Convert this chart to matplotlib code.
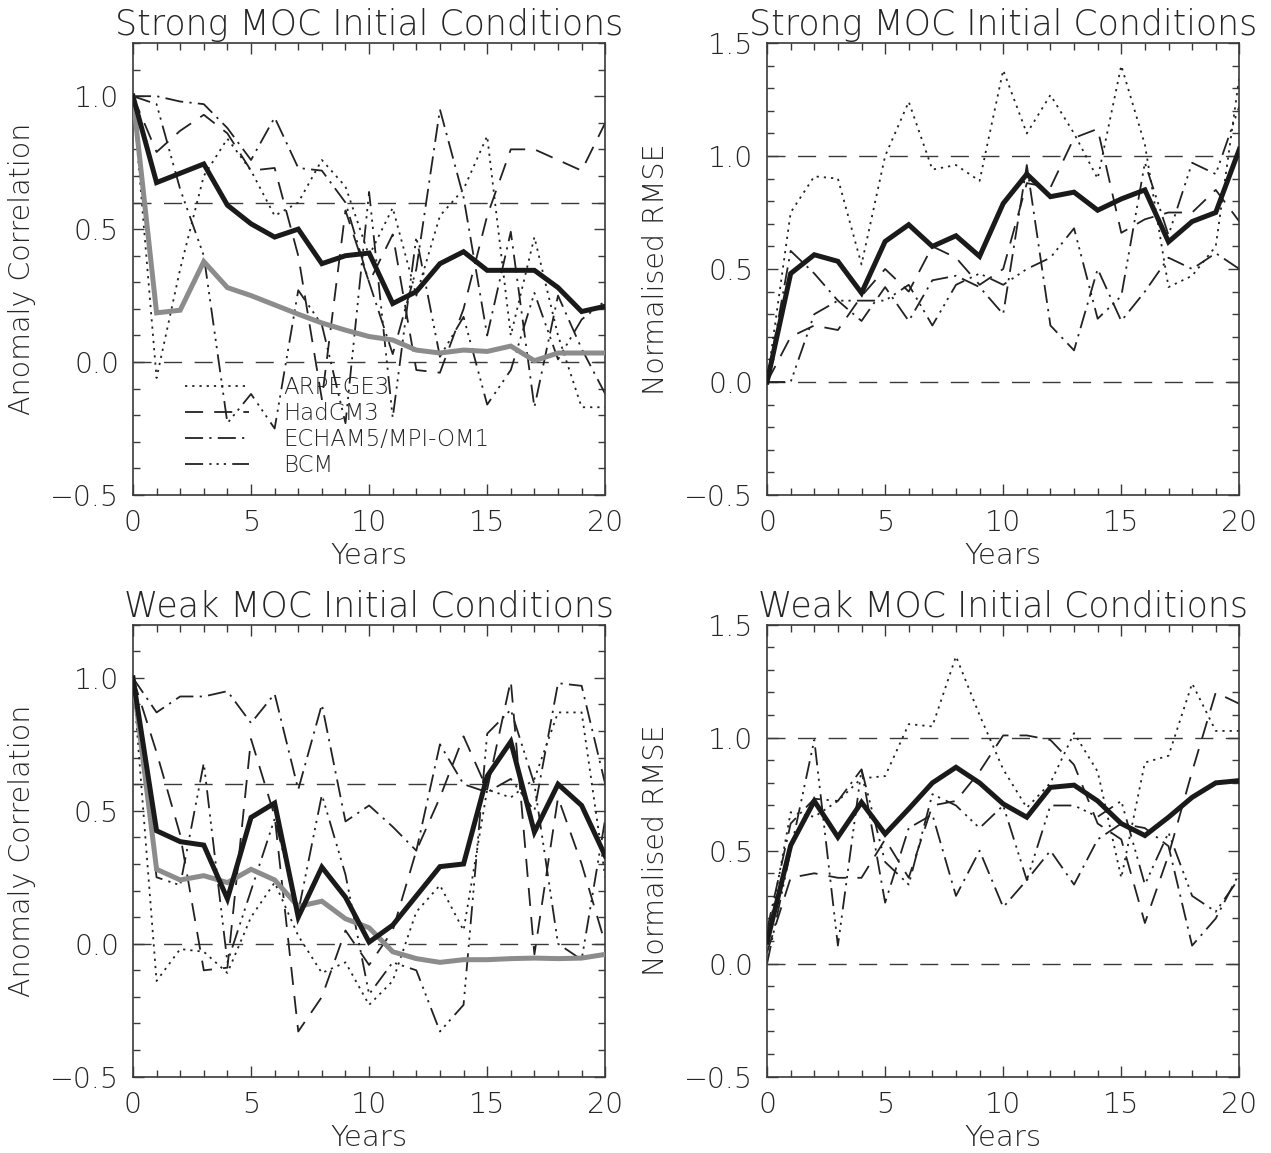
import numpy as np
from matplotlib import pyplot as plt
from matplotlib.ticker import MultipleLocator

years = np.arange(0, 21)
models = ['ARPEGE3', 'HadCM3', 'ECHAM5/MPI-OM1', 'BCM']

# Strong MOC initial conditions, anomaly correlation
strong_ac = {
  'ARPEGE3': [1.00, -0.06, 0.35, 0.70, 0.84, 0.72, 0.55, 0.60, 0.76, 0.66, 0.40,
              0.58, 0.25, 0.55, 0.65, 0.85, 0.10, 0.47, 0.10, -0.17, -0.17],
  'HadCM3': [1.00, 0.79, 0.87, 0.93, 0.86, 0.72, 0.73, 0.40, -0.14, 0.57, 0.30,
             0.48, -0.03, -0.04, 0.20, 0.55, 0.80, 0.80, 0.76, 0.72, 0.90],
  'ECHAM5/MPI-OM1': [1.00, 1.00, 0.98, 0.97, 0.88, 0.76, 0.92, 0.73, 0.72, 0.60, 0.30,
                     0.03, 0.35, 0.95, 0.62, 0.10, 0.49, -0.17, 0.25, 0.05, -0.12],
  'BCM': [1.00, 0.97, 0.65, 0.40, -0.23, -0.12, -0.25, 0.27, 0.14, -0.23, 0.64,
          -0.21, 0.47, 0.02, 0.17, -0.16, -0.03, 0.26, 0.01, 0.16, 0.23],
}
strong_ac_mean = [1.00, 0.675, 0.71, 0.745, 0.59, 0.52, 0.47, 0.50, 0.37, 0.40, 0.41,
                  0.22, 0.265, 0.37, 0.415, 0.345, 0.345, 0.345, 0.28, 0.19, 0.21]
strong_ac_persist = [1.00, 0.185, 0.195, 0.378, 0.28, 0.25, 0.215, 0.18, 0.147, 0.12, 0.096,
                     0.083, 0.045, 0.034, 0.045, 0.04, 0.06, 0.005, 0.034, 0.034, 0.034]

# Strong MOC initial conditions, normalised RMSE
strong_rmse = {
  'ARPEGE3': [0.00, 0.75, 0.91, 0.90, 0.52, 1.00, 1.24, 0.94, 0.96, 0.89, 1.38,
              1.10, 1.27, 1.10, 0.90, 1.40, 1.05, 0.42, 0.47, 0.60, 1.35],
  'HadCM3': [0.00, 0.20, 0.25, 0.23, 0.38, 0.50, 0.40, 0.60, 0.55, 0.43, 0.50,
             0.88, 0.86, 1.08, 1.12, 0.66, 0.72, 0.75, 0.75, 0.85, 0.71],
  'ECHAM5/MPI-OM1': [0.00, 0.58, 0.48, 0.36, 0.27, 0.42, 0.27, 0.45, 0.47, 0.42, 0.30,
                     0.96, 0.25, 0.14, 0.50, 0.27, 0.40, 0.55, 0.50, 0.57, 0.50],
  'BCM': [0.00, 0.00, 0.30, 0.36, 0.36, 0.36, 0.43, 0.25, 0.43, 0.48, 0.43,
          0.50, 0.55, 0.68, 0.28, 0.38, 0.97, 0.65, 0.97, 0.92, 1.22],
}
strong_rmse_mean = [0.00, 0.48, 0.563, 0.534, 0.394, 0.622, 0.696, 0.60, 0.647, 0.556, 0.79,
                    0.92, 0.82, 0.84, 0.76, 0.81, 0.85, 0.62, 0.71, 0.75, 1.03]

# Weak MOC initial conditions, anomaly correlation
weak_ac = {
  'ARPEGE3': [1.00, -0.14, -0.02, -0.03, -0.11, 0.10, 0.23, 0.03, -0.11, -0.07, -0.23,
              -0.14, 0.12, 0.22, 0.05, 0.58, 0.55, 0.62, 0.87, 0.87, 0.25],
  'HadCM3': [1.00, 0.72, 0.41, -0.10, -0.09, 0.77, 0.48, -0.33, -0.20, 0.05, -0.08,
             0.05, 0.35, 0.55, 0.78, 0.58, 0.99, -0.04, 0.55, 0.30, 0.00],
  'ECHAM5/MPI-OM1': [1.00, 0.87, 0.93, 0.93, 0.95, 0.83, 0.94, 0.58, 0.90, 0.46, 0.52,
                     0.44, 0.35, 0.75, 0.60, 0.57, 0.62, 0.50, 0.98, 0.97, 0.60],
  'BCM': [1.00, 0.25, 0.22, 0.68, -0.07, 0.20, 0.47, 0.12, 0.56, 0.26, -0.19,
          -0.07, -0.10, -0.33, -0.23, 0.79, 0.88, 0.60, 0.00, -0.06, 0.47],
}
weak_ac_mean = [1.00, 0.425, 0.384, 0.371, 0.169, 0.475, 0.529, 0.10, 0.288, 0.175, 0.006,
                0.07, 0.18, 0.29, 0.30, 0.63, 0.76, 0.42, 0.60, 0.52, 0.33]
weak_ac_persist = [1.00, 0.28, 0.24, 0.256, 0.23, 0.28, 0.24, 0.14, 0.16, 0.094, 0.06,
                   -0.03, -0.056, -0.07, -0.06, -0.06, -0.056, -0.054, -0.056, -0.054, -0.04]

# Weak MOC initial conditions, normalised RMSE
weak_rmse = {
  'ARPEGE3': [0.10, 0.67, 0.65, 0.72, 0.82, 0.83, 1.06, 1.05, 1.36, 1.10, 0.86,
              0.69, 0.80, 1.02, 0.85, 0.38, 0.89, 0.92, 1.24, 1.03, 1.03],
  'HadCM3': [0.05, 0.38, 0.40, 0.38, 0.38, 0.55, 0.38, 0.70, 0.72, 0.85, 1.01,
             1.01, 0.99, 0.88, 0.62, 0.55, 0.18, 0.48, 0.85, 1.20, 1.15],
  'ECHAM5/MPI-OM1': [0.15, 0.62, 0.73, 0.72, 0.86, 0.27, 0.60, 0.66, 0.30, 0.50, 0.25,
                     0.37, 0.50, 0.35, 0.55, 0.62, 0.60, 0.52, 0.08, 0.20, 0.40],
  'BCM': [0.00, 0.50, 0.99, 0.08, 0.86, 0.45, 0.35, 0.75, 0.70, 0.60, 0.70,
          0.37, 0.70, 0.70, 0.65, 0.72, 0.35, 0.58, 0.30, 0.23, 0.38],
}
weak_rmse_mean = [0.096, 0.523, 0.72, 0.56, 0.714, 0.574, 0.685, 0.80, 0.869, 0.80, 0.707,
                  0.648, 0.78, 0.79, 0.72, 0.62, 0.567, 0.648, 0.736, 0.80, 0.81]

# dash patterns in points (lines.scale_dashes is off)
styles = {
  'ARPEGE3': (0, (1.6, 3.6)),
  'HadCM3': (0, (13, 8)),
  'ECHAM5/MPI-OM1': (0, (13, 4.5, 1.6, 4.5)),
  'BCM': (0, (13, 4.5, 1.6, 3.6, 1.6, 3.6, 1.6, 4.5)),
}

INK = '#262626'


def fmt_tick(v, pos):
  return ('%.1f' % v).replace('-', '\u2212')


def draw_panel(ax, series, mean, persist, ylim, refs, ylabel, title, legend=False):
  for r in refs:
    ax.axhline(r, color='#3a3a3a', lw=1.0, ls=(0, (13, 9)), zorder=1)
  for name in models:
    ax.plot(years, series[name], color='#222222', lw=1.3, ls=styles[name],
            label=name, zorder=2)
  if persist is not None:
    ax.plot(years, persist, color='#8c8c8c', lw=3.6, zorder=3,
            solid_joinstyle='miter')
  ax.plot(years, mean, color='#1a1a1a', lw=3.6, zorder=4, solid_joinstyle='miter')

  ax.set_xlim(0, 20)
  ax.set_ylim(*ylim)
  ax.xaxis.set_major_locator(MultipleLocator(5))
  ax.xaxis.set_minor_locator(MultipleLocator(1))
  ax.yaxis.set_major_locator(MultipleLocator(0.5))
  ax.yaxis.set_minor_locator(MultipleLocator(0.1))
  ax.yaxis.set_major_formatter(plt.FuncFormatter(fmt_tick))
  ax.tick_params(which='both', direction='in', top=True, right=True, color='#3a3a3a',
                 width=1.0, labelsize=20.5, labelcolor=INK)
  ax.tick_params(which='major', length=8, pad=10)
  ax.tick_params(which='minor', length=5)
  for s in ax.spines.values():
    s.set_color('#3a3a3a')
    s.set_linewidth(1.2)
  ax.set_xlabel('Years', fontsize=21, color=INK, labelpad=4, fontweight='light')
  ax.set_ylabel(ylabel, fontsize=20.5, color=INK, fontweight='light')
  ax.yaxis.set_label_coords(-0.205, 0.5)
  ax.set_title(title, fontsize=25, color=INK, pad=6, fontweight='light')

  if legend:
    leg = ax.legend(loc='lower left', bbox_to_anchor=(0.085, 0.015), frameon=False,
                    fontsize=16.5, handlelength=2.8, handletextpad=1.5,
                    labelspacing=0.12, borderpad=0)
    for t in leg.get_texts():
      t.set_color(INK)


def main():
  plt.rcParams['font.family'] = ['DejaVu Sans']
  plt.rcParams['font.weight'] = 'light'
  plt.rcParams['lines.scale_dashes'] = False

  fig = plt.figure(figsize=(12.71, 11.53), dpi=100)
  w, h = 0.3716, 0.392
  ax_tl = fig.add_axes([0.1046, 0.5707, w, h])
  ax_tr = fig.add_axes([0.6035, 0.5707, w, h])
  ax_bl = fig.add_axes([0.1046, 0.0662, w, h])
  ax_br = fig.add_axes([0.6035, 0.0662, w, h])

  draw_panel(ax_tl, strong_ac, strong_ac_mean, strong_ac_persist, (-0.5, 1.2),
             [0.0, 0.6], 'Anomaly Correlation', 'Strong MOC Initial Conditions',
             legend=True)
  draw_panel(ax_tr, strong_rmse, strong_rmse_mean, None, (-0.5, 1.5),
             [0.0, 1.0], 'Normalised RMSE', 'Strong MOC Initial Conditions')
  draw_panel(ax_bl, weak_ac, weak_ac_mean, weak_ac_persist, (-0.5, 1.2),
             [0.0, 0.6], 'Anomaly Correlation', 'Weak MOC Initial Conditions')
  draw_panel(ax_br, weak_rmse, weak_rmse_mean, None, (-0.5, 1.5),
             [0.0, 1.0], 'Normalised RMSE', 'Weak MOC Initial Conditions')

  fig.savefig('out.png', dpi=100)


if __name__ == '__main__':
  main()
